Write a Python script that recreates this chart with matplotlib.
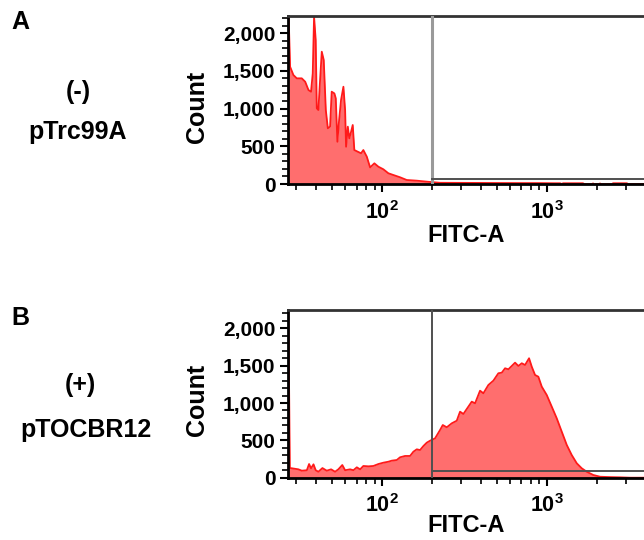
import matplotlib
matplotlib.use("Agg")
import matplotlib.pyplot as plt
from matplotlib.ticker import FixedLocator, LogLocator, NullFormatter, MultipleLocator

plt.rcParams['font.family'] = ['Liberation Sans', 'DejaVu Sans']
plt.rcParams['font.weight'] = 'bold'
plt.rcParams['mathtext.fontset'] = 'custom'
plt.rcParams['mathtext.rm'] = 'Liberation Sans:bold'
plt.rcParams['mathtext.bf'] = 'Liberation Sans:bold'
plt.rcParams['mathtext.it'] = 'Liberation Sans:bold'

# ---------------- data ----------------
panel_letters = ["A", "B"]
sample_signs = ["(-)", "(+)"]
sample_names = ["pTrc99A", "pTOCBR12"]
x_label = "FITC-A"
y_label = "Count"
y_ticks = [0, 500, 1000, 1500, 2000]
y_tick_labels = ["0", "500", "1,000", "1,500", "2,000"]
x_ticks = [100, 1000]
x_tick_labels = [r"$\mathbf{10^{2}}$", r"$\mathbf{10^{3}}$"]
x_range = [26.9, 3870]

# Panel A (negative control) histogram: FITC-A values and counts
fitc_a = [27.0, 27.7, 29.0, 30.4, 32.6, 34.2, 35.8, 37.1, 38.0, 38.7, 39.6, 40.2,
          41.1, 42.1, 43.1, 44.3, 45.6, 46.9, 48.4, 49.5, 51.4, 52.4, 53.6, 54.9,
          56.4, 58.3, 59.7, 60.5, 62.0, 63.3, 64.9, 66.4, 67.9, 71.2, 74.6, 77.0,
          80.8, 84.6, 89.8, 95.0, 101.8, 109.2, 117.1, 128.5, 141.1, 162.3, 195.4,
          225, 300, 400, 500, 700, 900, 1100, 1200, 1230, 1250, 1650, 1680,
          1880, 1900, 1920, 2080, 2095, 2110, 2500, 2510, 3050, 3070, 3870]
count_a = [2400, 1554, 1444, 1400, 1400, 1355, 1245, 1223, 1466, 2216, 1908, 1003,
           980, 1378, 1753, 1643, 980, 738, 760, 1223, 1200, 1135, 560, 848,
           1113, 1289, 980, 494, 760, 605, 693, 782, 450, 428, 407, 450,
           362, 220, 274, 229, 195, 142, 119, 89, 53, 44, 27,
           16, 15, 14, 13, 12, 12, 10, 10, 0, 10, 10, 0,
           0, 8, 0, 0, 8, 0, 0, 10, 10, 0, 0]

# Panel B (pTOCBR12) histogram
fitc_b = [27.0, 27.6, 28.4, 31.1, 32.6, 35.0, 36.1, 37.1, 38.4, 39.6, 41.1, 43.5,
          46.2, 49.1, 51.9, 54.3, 57.4, 59.7, 64.0, 67.0, 70.3, 73.6, 77.0, 82.6,
          88.6, 95.0, 101.8, 109.2, 114.5, 122.8, 128.5, 137.8, 147.8, 154.8, 162.3,
          169.9, 178.0, 186.6, 195.4, 209.5, 224.7, 233.3, 246.7, 264.5, 283.6,
          297.0, 311.0, 333.4, 349.6, 366.2, 392.6, 411.2, 440.9, 472.7, 506.9,
          531.6, 556.6, 582.9, 611.1, 640.0, 670.2, 702.7, 735.8, 778.0, 807.9,
          845.9, 885.8, 928.8, 995.8, 1068, 1145, 1228, 1317, 1411, 1514, 1623,
          1740, 1908, 2096, 2409, 2770, 3200, 3870]
count_b = [2400, 130, 126, 112, 94, 100, 183, 126, 179, 100, 80, 129,
           94, 112, 80, 112, 170, 100, 112, 100, 139, 112, 157, 152,
           157, 183, 201, 214, 228, 237, 273, 291, 291, 348, 380,
           370, 424, 469, 495, 527, 639, 705, 675, 728, 763,
           884, 853, 951, 1018, 996, 1165, 1130, 1241, 1299, 1398,
           1406, 1465, 1451, 1496, 1540, 1496, 1532, 1509, 1599, 1486,
           1375, 1352, 1219, 1107, 951, 795, 616, 438, 304, 193, 126,
           80, 36, 13, 8, 5, 0, 0]

gate_x = 200
gate_y = [70, 85]
y_tops = [2226, 2245]

# ---------------- figure ----------------
W, H = 644, 540
fig = plt.figure(figsize=(W / 100, H / 100), dpi=100)

axes_px = [(288, 16, 184), (288, 310, 477.7)]  # left, top, bottom in pixels
series = [(fitc_a, count_a), (fitc_b, count_b)]
gate_styles = [dict(color="#9a9a9a", lw=2.2), dict(color="#505050", lw=1.4)]
letter_y = [22, 318]
sign_pos = [(78, 92), (80, 385)]
name_pos = [(78, 132), (86, 430)]
count_y = [107, 400]
xlabel_pad = [0, -2]

fill_col = "#ff6e6e"
line_col = "#ff1a1a"

for i in range(2):
    lp, tp, bp = axes_px[i]
    ax = fig.add_axes([lp / W, 1 - bp / H, 1 - lp / W, (bp - tp) / H])
    xs, ys = series[i]
    ax.fill_between(xs, ys, 0, color=fill_col, lw=0, zorder=1)
    ax.plot(xs, ys, color=line_col, lw=1.3, zorder=2)
    ax.set_xscale("log")
    ax.set_xlim(*x_range)
    ax.set_ylim(0, y_tops[i])

    # gate
    ax.axvline(gate_x, **gate_styles[i], zorder=3)
    ax.plot([gate_x, x_range[1]], [gate_y[i], gate_y[i]], color="#505050", lw=1.4, zorder=3)

    for s in ["left", "bottom"]:
        ax.spines[s].set_linewidth(2)
        ax.spines[s].set_color("black")
    ax.spines["top"].set_linewidth(2)
    ax.spines["top"].set_color("#333333")
    ax.spines["right"].set_visible(False)

    ax.xaxis.set_major_locator(FixedLocator(x_ticks))
    ax.set_xticklabels(x_tick_labels)
    ax.xaxis.set_minor_locator(LogLocator(base=10, subs=range(2, 10), numticks=20))
    ax.xaxis.set_minor_formatter(NullFormatter())
    ax.yaxis.set_major_locator(FixedLocator(y_ticks))
    ax.set_yticklabels(y_tick_labels)
    ax.yaxis.set_minor_locator(MultipleLocator(100))
    ax.tick_params(axis="both", which="major", length=6, width=1.5, labelsize=15, pad=3)
    ax.tick_params(axis="both", which="minor", length=4, width=1.2)
    ax.tick_params(axis="x", which="major", labelsize=15.5, pad=6)
    for lab in ax.get_yticklabels():
        lab.set_fontweight("bold")

    ax.set_xlabel(x_label, fontsize=17, fontweight="bold", labelpad=xlabel_pad[i])

    fig.text(197 / W, 1 - count_y[i] / H, y_label, rotation=90, fontsize=18,
             fontweight="bold", ha="center", va="center")
    fig.text(11 / W, 1 - letter_y[i] / H, panel_letters[i], fontsize=18,
             fontweight="bold", ha="left", va="center")
    fig.text(sign_pos[i][0] / W, 1 - sign_pos[i][1] / H, sample_signs[i], fontsize=18,
             fontweight="bold", ha="center", va="center")
    fig.text(name_pos[i][0] / W, 1 - name_pos[i][1] / H, sample_names[i], fontsize=18,
             fontweight="bold", ha="center", va="center")

fig.savefig("out.png", dpi=100)
